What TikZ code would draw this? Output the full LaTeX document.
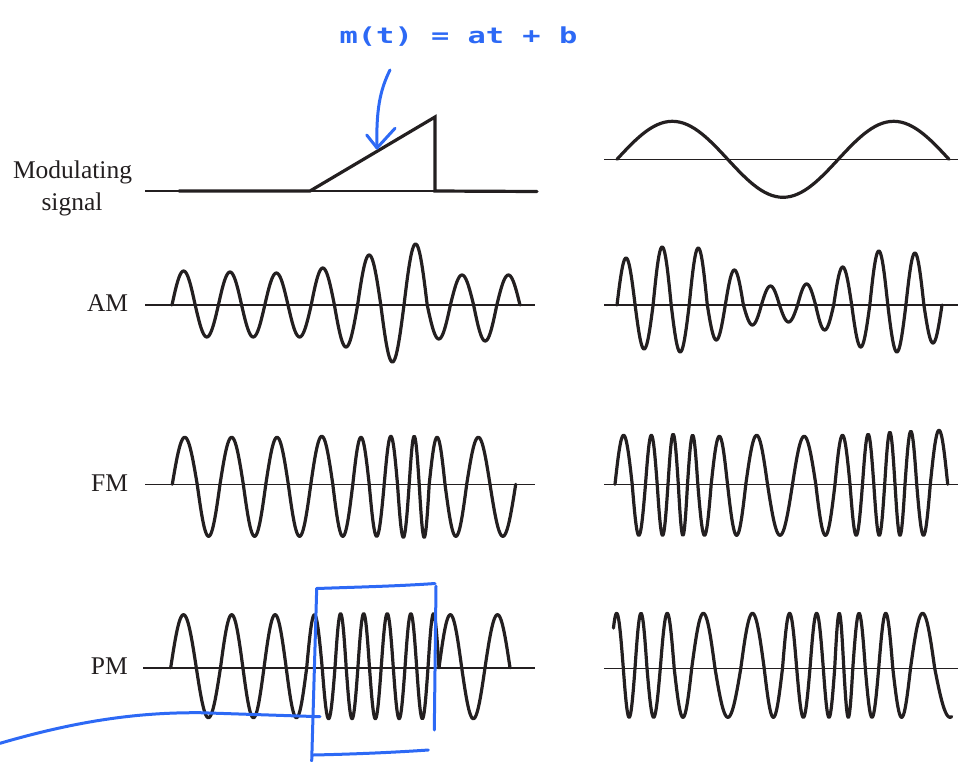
\documentclass[tikz,border=0pt]{standalone}
\usepackage{fontspec}
\setmainfont{Liberation Serif}
\newfontfamily\handfont{DejaVu Sans Mono}
\definecolor{ink}{RGB}{35,31,32}
\definecolor{pen}{RGB}{45,105,245}
\tikzset{
  wv/.style={draw=ink, line width=3.2pt, line cap=round, line join=round},
  axisline/.style={draw=ink, line width=1.6pt},
  lbl/.style={font=\fontsize{25.5}{30}\selectfont, text=ink, inner sep=0pt},
  penline/.style={draw=pen, line width=3pt, line cap=round, line join=round},
}
\newcommand\halfwaves[3]{%
  \foreach \zb/\am [remember=\zb as \za (initially #2)] in {#3}{%
    \draw[wv] plot[domain=0:180,samples=31] ({\za+(\zb-\za)/180*\x},{#1-(\am)*sin(\x)});
  }%
}
\begin{document}
\begin{tikzpicture}[x=1pt,y=-1pt]
\useasboundingbox (0,0) rectangle (959,761);

% labels
\node[lbl, anchor=base] (lmod) at (72.5,178.3) {Modulating};
\node[lbl, anchor=base] (lsig) at (72,210) {signal};
\node[lbl, anchor=base east] (lam) at (128.3,311.7) {AM};
\node[lbl, anchor=base east] (lfm) at (128.3,491) {FM};
\node[lbl, anchor=base east] (lpm) at (128,674.5) {PM};

% modulating signals
\draw[axisline] (145,191) -- (537,191);
\draw[wv, line join=miter] (179,191) -- (310,191) -- (435,117) -- (435,191) -- (537,191.5);
\draw[axisline] (604,159.3) -- (958,159.3);
\halfwaves{159.3}{617}{727.7/38, 838.3/-38, 949/38}

% AM
\draw[axisline] (145,305) -- (535,305);
\halfwaves{305}{172}{195.2/34, 218.4/-32, 241.6/33, 264.8/-32, 288/32, 311.2/-32, 334.4/37, 357.6/-42, 380.8/50, 404/-57, 427.2/61, 450.4/-34, 473.6/30, 496.8/-36, 520/30}
\draw[axisline] (604,305) -- (958,305);
\halfwaves{305}{617}{635.1/47, 653.1/-44, 671.2/58, 689.2/-47, 707.3/57, 725.3/-35, 743.4/35, 761.4/-20, 779.5/19, 797.6/-17, 815.6/21, 833.7/-25, 851.7/38, 869.8/-42, 887.8/54, 905.9/-47, 923.9/52, 942/-38}

% FM
\draw[axisline] (145,484.3) -- (535,484.3);
\halfwaves{484.3}{172.3}{197.2/47, 220/-52, 243.3/47, 265.8/-52, 288.3/47, 310.8/-52, 332.8/48, 352.8/-52, 369.2/47, 384.2/-52, 397.5/48, 409.2/-53, 419.2/48, 429.2/-53, 445/47, 466.7/-52, 490/47, 515.7/-52}
\draw[axisline] (604,484.3) -- (958,484.3);
\halfwaves{484.3}{615}{632.2/49, 645.5/-51, 657.2/49, 668/-51, 678.3/50, 687.5/-51, 697.8/49, 711.2/-51, 727.5/48, 745.8/-51, 767.5/49, 792.5/-51, 815.8/48, 835/-51, 850/49, 862.5/-51, 873.8/50, 884.7/-51, 895/52, 905/-51, 916.7/53, 930.3/-51, 947.7/54}

% PM
\draw[axisline] (143,667.7) -- (535,667.7);
\halfwaves{667.7}{170.7}{196.3/53, 220.5/-50, 242.9/53, 264/-50, 286.2/53, 306.7/-50, 322.2/53, 335/-51, 346.2/54, 357.9/-51, 369.5/54, 381.2/-51, 393.3/54, 405/-51, 416.7/54, 428/-51, 439/54, 461.7/53, 485/-51, 510/53}
\draw[axisline] (604,668.3) -- (958,668.3);
\draw[wv] plot[domain=47:180,samples=25] ({610+(623.3-610)/180*\x},{668.3-55*sin(\x)});
\halfwaves{668.3}{623.3}{635/-49, 647/55, 660.3/-49, 674.2/55, 691.7/-49, 715/55, 740.8/-49, 764.2/55, 782.5/-49, 796.7/55, 810/-49, 823.3/55, 834.7/-49, 843.8/55, 852.8/-49, 865.3/55, 878.7/-49, 892.8/55, 910.5/-49, 934.7/55}
\draw[wv] plot[domain=0:100,samples=20] ({934.7+30.6/180*\x},{668.3+49*sin(\x)});

% blue annotations
\node[text=pen, font=\handfont\bfseries\fontsize{22}{26}\selectfont, inner sep=0pt] (eq) at (458.5,36.5) {\scalebox{1.38}[1]{m(t) = at + b}};
\coordinate (atail) at (390,70);
\coordinate (atip) at (377,148);
\coordinate (armL) at (366.7,135);
\coordinate (armR) at (395,128.3);
\draw[penline] (atail) .. controls (380,90) and (376,110) .. (atip);
\draw[penline] (armL) -- (atip) -- (armR);

\coordinate (bxTL) at (316.7,588.5);
\coordinate (bxTR) at (435,583.5);
\coordinate (bxLB) at (311.7,761);
\coordinate (bxRT) at (436,586);
\coordinate (bxRB) at (434.3,730);
\coordinate (bxBL) at (313.3,755);
\coordinate (bxBR) at (428.3,750);
\draw[penline] (bxTL) .. controls (360,587) and (400,586) .. (bxTR);
\draw[penline] (bxTL) -- (bxLB);
\draw[penline] (bxRT) -- (bxRB);
\draw[penline] (bxBL) .. controls (360,754) and (400,752) .. (bxBR);
\coordinate (cS) at (0,743.3);
\coordinate (cM) at (200,712.7);
\coordinate (cE) at (320,716.7);
\draw[penline] (cS) .. controls (90,717) and (150,712.5) .. (cM) -- (cE);
\end{tikzpicture}
\end{document}
